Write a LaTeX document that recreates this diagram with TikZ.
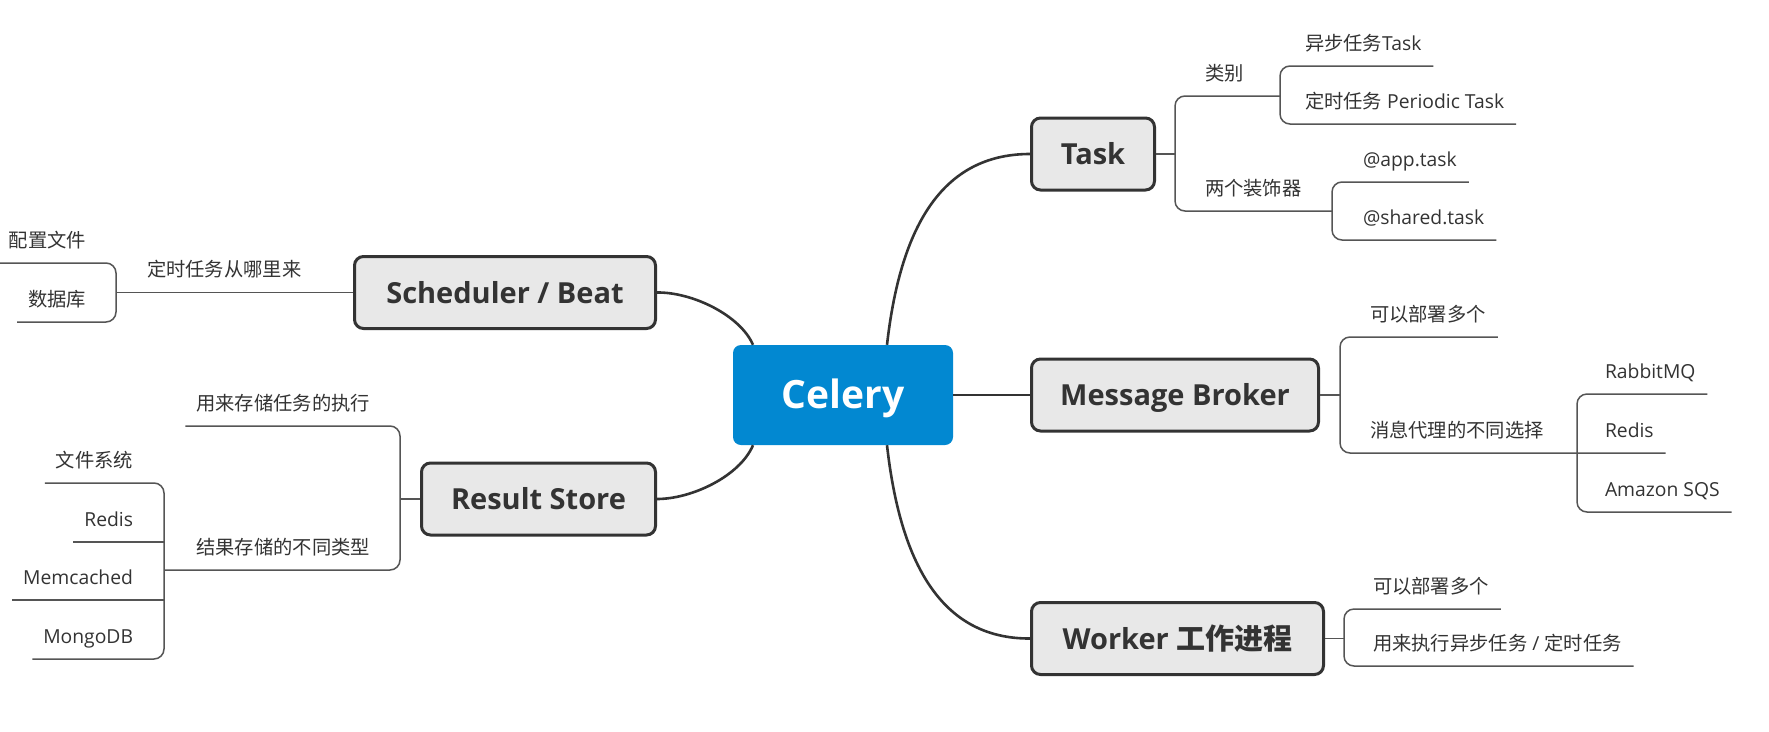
\documentclass[tikz,border=0pt]{standalone}
\usepackage{fontspec}
\setmainfont{Open Sans}
\newfontfamily\cjk{Noto Sans CJK SC}
\newcommand\zhtext[1]{{\cjk #1}}
\definecolor{boxfill}{HTML}{E8E8E8}
\definecolor{boxline}{HTML}{333333}
\definecolor{txt}{HTML}{333333}
\definecolor{subline}{HTML}{555555}
\definecolor{celeryblue}{HTML}{0288D1}
\begin{document}
\begin{tikzpicture}[x=1pt,y=-1pt,
  topic/.style={draw=boxline, line width=3pt, fill=boxfill, rounded corners=9pt, text=txt,
    font=\fontsize{29}{34}\selectfont\bfseries, inner sep=0pt, minimum height=72pt,
    text height=21pt, text depth=0pt},
  rootbox/.style={fill=celeryblue, rounded corners=8pt, text=white,
    font=\fontsize{39}{44}\selectfont\bfseries, inner sep=0pt, minimum width=220pt, minimum height=100pt,
    text height=26pt, text depth=0pt},
  leaf/.style={text=txt, font=\fontsize{19.3}{22}\selectfont, inner sep=0pt, outer sep=0pt,
    text height=14pt, text depth=16pt, anchor=base west},
  leafl/.style={leaf, anchor=base east},
  mainline/.style={draw=boxline, line width=2.6pt},
  subl/.style={draw=subline, line width=1.5pt, rounded corners=10pt}]
\useasboundingbox (0,0) rectangle (1769,731);
\fill[white] (0,0) rectangle (1769,731);

% central and main topics
\node[rootbox] (celery) at (843,395) {Celery};
\node[topic, minimum width=123pt] (task) at (1093,154) {Task};
\node[topic, minimum width=287pt] (mb) at (1175,395) {Message Broker};
\node[topic, minimum width=292pt] (worker) at (1177.5,638.5) {Worker \zhtext{工作进程}};
\node[topic, minimum width=301pt] (sched) at (505,292.5) {Scheduler / Beat};
\node[topic, minimum width=234pt] (result) at (538.5,499) {Result Store};

% main connectors
\draw[mainline] ([xshift=44pt]celery.north) .. controls (900,230) and (940,154) .. (task.west);
\draw[mainline] ([xshift=44pt]celery.south) .. controls (900,561) and (940,639) .. (worker.west);
\draw[mainline] (celery.east) -- (mb.west);
\draw[mainline] (sched.east) .. controls (692,292) and (740,315) .. ([xshift=-90pt]celery.north);
\draw[mainline] (result.east) .. controls (692,499) and (740,476) .. ([xshift=-90pt]celery.south);

% bracket positions
\coordinate (bT) at (1175,0);
\coordinate (bC) at (1280,0);
\coordinate (bD) at (1332,0);
\coordinate (bM) at (1340,0);
\coordinate (bMC) at (1577,0);
\coordinate (bW) at (1344,0);
\coordinate (bS) at (116,0);
\coordinate (bR) at (400,0);
\coordinate (bRT) at (164,0);

% Task subtopics
\node[leaf] (cat) at (1205,80) {\zhtext{类别}};
\node[leaf] (async) at (1305,50) {\zhtext{异步任务}Task};
\node[leaf] (periodic) at (1305,108) {\zhtext{定时任务} Periodic Task};
\node[leaf] (deco) at (1205,195) {\zhtext{两个装饰器}};
\node[leaf] (app) at (1363,166) {@app.task};
\node[leaf] (shared) at (1363,224) {@shared.task};
\draw[subl] (task.east) -- (task.east -| bT);
\draw[subl] (cat.south -| bC) -- (cat.south -| bT) -- (deco.south -| bT) -- (deco.south -| bD);
\draw[subl] ([xshift=12pt]async.south east) -- (async.south -| bC) -- (periodic.south -| bC) -- ([xshift=12pt]periodic.south east);
\draw[subl] ([xshift=12pt]app.south east) -- (app.south -| bD) -- (shared.south -| bD) -- ([xshift=12pt]shared.south east);

% Message Broker subtopics
\node[leaf] (mbmulti) at (1370,321) {\zhtext{可以部署多个}};
\node[leaf] (mbchoice) at (1370,437) {\zhtext{消息代理的不同选择}};
\node[leaf] (rabbit) at (1605,378) {RabbitMQ};
\node[leaf] (redisb) at (1605,437) {Redis};
\node[leaf] (sqs) at (1605,496) {Amazon SQS};
\draw[subl] (mb.east) -- (mb.east -| bM);
\draw[subl] ([xshift=12pt]mbmulti.south east) -- (mbmulti.south -| bM) -- (mbchoice.south -| bM) -- ([xshift=12pt]redisb.south east);
\draw[subl] ([xshift=12pt]rabbit.south east) -- (rabbit.south -| bMC) -- (sqs.south -| bMC) -- ([xshift=12pt]sqs.south east);

% Worker subtopics
\node[leaf] (wmulti) at (1373,593) {\zhtext{可以部署多个}};
\node[leaf] (wuse) at (1373,650) {\zhtext{用来执行异步任务} / \zhtext{定时任务}};
\draw[subl] (worker.east) -- (worker.east -| bW);
\draw[subl] ([xshift=12pt]wmulti.south east) -- (wmulti.south -| bW) -- (wuse.south -| bW) -- ([xshift=12pt]wuse.south east);

% Scheduler subtopics
\node[leaf] (src) at (147,276) {\zhtext{定时任务从哪里来}};
\node[leafl] (cfg) at (86,247) {\zhtext{配置文件}};
\node[leafl] (db) at (86,306) {\zhtext{数据库}};
\draw[subl] (sched.west) -- (sched.west -| bS);
\draw[subl] ([xshift=-11pt]cfg.south west) -- (cfg.south -| bS) -- (db.south -| bS) -- ([xshift=-11pt]db.south west);

% Result Store subtopics
\node[leafl] (store) at (370,410) {\zhtext{用来存储任务的执行}};
\node[leafl] (types) at (370,554) {\zhtext{结果存储的不同类型}};
\node[leafl] (fs) at (133,467) {\zhtext{文件系统}};
\node[leafl] (redisr) at (133,526) {Redis};
\node[leafl] (memc) at (133,584) {Memcached};
\node[leafl] (mongo) at (133,643) {MongoDB};
\draw[subl] (result.west) -- (result.west -| bR);
\draw[subl] ([xshift=-11pt]store.south west) -- (store.south -| bR) -- (types.south -| bR) -- (types.south -| bRT);
\draw[subl] ([xshift=-11pt]fs.south west) -- (fs.south -| bRT) -- (mongo.south -| bRT) -- ([xshift=-11pt]mongo.south west);
\draw[subl] ([xshift=-11pt]redisr.south west) -- (redisr.south -| bRT);
\draw[subl] ([xshift=-11pt]memc.south west) -- (memc.south -| bRT);
\end{tikzpicture}
\end{document}
